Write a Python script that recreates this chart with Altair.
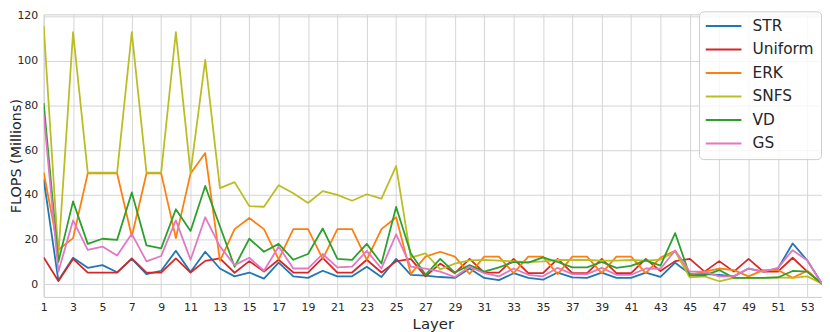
import altair as alt
import pandas as pd

layers = list(range(1, 55))
x_ticks = list(range(1, 54, 2))
y_ticks = [0, 20, 40, 60, 80, 100, 120]

series_names = ["STR", "Uniform", "ERK", "SNFS", "VD", "GS"]
series_colors = ["#1f77b4", "#d62728", "#ff7f0e", "#bcbd22", "#2ca02c", "#e377c2"]

STR = [47, 1.7, 11.9, 7.4, 8.6, 5.4, 11.4, 4.6, 6.1, 15, 5.5, 14.6, 7.1, 3.6, 5.3, 2.6, 9.7, 3.6,
       2.9, 6.1, 3.6, 3.6, 7.9, 3.3, 11.4, 4.3, 3.9, 3.3, 2.9, 7.1, 2.9, 1.9, 5, 2.9, 2.1, 5.3,
       3.1, 2.9, 5.3, 2.9, 2.9, 5.3, 3.4, 9.7, 4.7, 4.6, 4.3, 3.6, 7.1, 5.7, 7.1, 18.3, 10.7, 0.3]
Uniform = [12, 1.5, 11.4, 5.3, 5.3, 5.3, 11.6, 5.3, 5.3, 11.6, 5.3, 10.5, 11.6, 5.2, 10.4, 5.7, 11, 5.3,
           5.3, 11.9, 5.3, 5.3, 11, 5.3, 10.3, 11.4, 3.6, 9.3, 5, 11.4, 5.3, 5.3, 11.4, 5, 5, 11.4,
           5, 5, 11.4, 5, 5, 11.4, 6, 10.4, 11.4, 5.7, 10.4, 5.7, 11.4, 5.7, 5.7, 11.9, 5.7, 0.3]
ERK = [50, 15.5, 20.7, 49.6, 49.6, 49.6, 21.4, 49.6, 49.6, 20.7, 49.6, 58.7, 10.5, 24.7, 29.7, 24.7, 11.2, 24.7,
       24.7, 11.4, 24.7, 24.7, 11, 24.7, 30, 4.7, 12.4, 14.6, 12.4, 4.7, 12.4, 12.4, 5, 12.4, 12.4, 4.6,
       12.4, 12.4, 5, 12.4, 12.4, 5, 12, 15, 4.3, 5.7, 7.1, 6.4, 3.6, 6.4, 6.4, 2.9, 6.1, 0.3]
SNFS = [115.5, 13, 112.7, 50, 50, 50, 112.7, 50, 50, 112.7, 50, 100.3, 43, 45.7, 35, 34.7, 44.3, 40.7,
        36.4, 41.7, 40, 37.4, 40.3, 38.3, 52.9, 12, 13.9, 6.7, 9.3, 10.7, 11, 10.6, 10.3, 10, 10.3, 10.9,
        10.9, 10.9, 10.6, 10.6, 10.9, 10.6, 11.1, 14.7, 3.1, 3.6, 1.4, 2.9, 2.9, 2.9, 3.1, 2.9, 3.6, 0.3]
VD = [81, 10, 37.1, 18.1, 20.4, 19.9, 41.1, 17.4, 16.1, 33.6, 23.9, 44, 26, 7.9, 20.4, 14.6, 18.1, 11,
      13.6, 25, 11.4, 11, 18.1, 9.3, 34.6, 13.8, 4.3, 11.4, 5.3, 8.6, 5.7, 7.6, 10, 9.7, 12.1, 10,
      7.6, 7.6, 10, 7.4, 8.3, 10.7, 8.4, 22.9, 4, 4, 6.4, 2.9, 2.9, 2.9, 3.1, 6, 5.7, 0.3]
GS = [76, 5.7, 28.6, 15.4, 16.9, 12.9, 22.6, 10.3, 12.7, 28.6, 11, 30, 17, 8.6, 11.9, 6.1, 16.9, 7.1,
      7.1, 13.6, 7.6, 7.9, 15, 7.1, 22.4, 7.9, 7.1, 5.7, 3.3, 7.9, 5, 3.6, 7.1, 4.3, 3.6, 7.4,
      4.6, 4.6, 7.4, 4.3, 4.3, 7.1, 7, 15.2, 5.7, 5.7, 3.6, 3.6, 7.1, 5.7, 7.4, 15.3, 10.7, 0.3]

series_values = [STR, Uniform, ERK, SNFS, VD, GS]

rows = []
for name, vals in zip(series_names, series_values):
    for layer, v in zip(layers, vals):
        rows.append({"Layer": layer, "FLOPS": v, "Method": name})
df = pd.DataFrame(rows)

text_color = "#262626"
grid_color = "#d5d5d5"

chart = alt.Chart(df).mark_line(strokeWidth=1.8, clip=True, strokeJoin="round").encode(
    x=alt.X(
        "Layer:Q",
        scale=alt.Scale(domain=[1, 54], nice=False, zero=False),
        axis=alt.Axis(
            values=x_ticks, title="Layer", format="d",
            titleFontSize=15, titleFontWeight="normal", titleColor=text_color,
            labelFontSize=11, labelColor=text_color, labelPadding=5, labelFlush=False,
            ticks=False, tickSize=0, domain=False,
            grid=True, gridColor=grid_color, gridWidth=1,
            titleY=27, titleBaseline="middle",
        ),
    ),
    y=alt.Y(
        "FLOPS:Q",
        scale=alt.Scale(domain=[-5.6, 120.7], nice=False, zero=False),
        axis=alt.Axis(
            values=y_ticks, title="FLOPS (Millions)", format="d",
            titleFontSize=14.5, titleFontWeight="normal", titleColor=text_color,
            labelFontSize=11, labelColor=text_color, labelPadding=6, labelFlush=False,
            ticks=False, tickSize=0, domain=False,
            grid=True, gridColor=grid_color, gridWidth=1,
            titleX=-27, titleY=142.5, titleBaseline="middle", titleAlign="center", titleAngle=270,
        ),
    ),
    color=alt.Color(
        "Method:N",
        sort=series_names,
        scale=alt.Scale(domain=series_names, range=series_colors),
        legend=alt.Legend(
            title=None, orient="none", legendX=661, legendY=-3,
            direction="vertical", columns=1,
            fillColor="rgba(255,255,255,0.8)", strokeColor="#cccccc", cornerRadius=4,
            padding=7, rowPadding=6.7,
            labelFontSize=15.5, labelColor=text_color,
            symbolType="M-3.6,0H3.6", symbolSize=100, symbolStrokeWidth=2,
            symbolOffset=10, labelOffset=21.4,
        ),
    ),
).properties(
    width=785,
    height=285,
    padding={"left": 36, "top": 5, "right": 0, "bottom": 38},
    autosize=alt.AutoSizeParams(type="none"),
    background="white",
).configure(
    font="DejaVu Sans",
).configure_view(
    stroke="#cccccc",
    strokeWidth=1,
)

chart.save("out.html", embed_options={"renderer": "svg", "actions": False})
